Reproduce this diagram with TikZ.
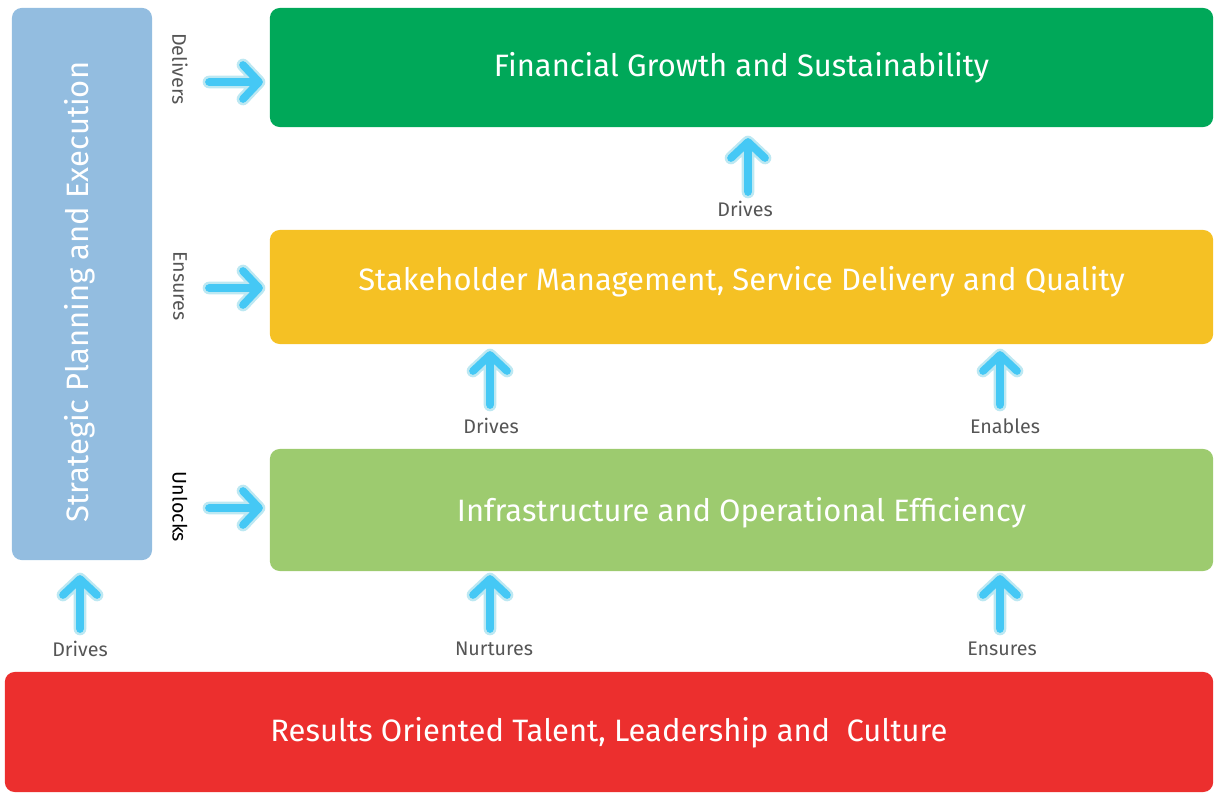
\documentclass[tikz,border=0pt]{standalone}
\usepackage{fontspec}
\setmainfont{Fira Sans}
\usetikzlibrary{positioning}

\definecolor{planblue}{HTML}{93BDE0}
\definecolor{fingreen}{HTML}{00A859}
\definecolor{stakeyellow}{HTML}{F5C124}
\definecolor{infragreen}{HTML}{9DCB6F}
\definecolor{talentred}{HTML}{EC2F2E}
\definecolor{arrblue}{HTML}{45C8F5}
\definecolor{arrhalo}{HTML}{BDE8F2}
\definecolor{lblgray}{HTML}{555555}

\begin{document}
\begin{tikzpicture}[
x=0.025cm, y=-0.025cm,
layer/.style={
	rounded corners=7pt,
	inner sep=0pt,
	minimum width=23.575cm,
	text=white,
	font=\fontsize{22}{26}\selectfont
},
tag/.style={
	text=lblgray,
	inner sep=1pt,
	font=\fontsize{14}{16}\selectfont
},
arrw/.pic={
	\draw[arrhalo, line width=9pt, line cap=round, line join=round]
	(0,0) -- (50,0) (34,-17) -- (50,0) -- (34,17);
	\draw[arrblue, line width=5.5pt, line cap=round, line join=round]
	(0,0) -- (50,0) (34,-17) -- (50,0) -- (34,17);
}
]
\useasboundingbox (0,0) rectangle (1214,793);

% layers
\node[layer, fill=fingreen, minimum height=2.975cm] at (741.5,67.5)
(fin) {Financial Growth and Sustainability};
\node[layer, fill=stakeyellow, minimum height=2.85cm, text height=16pt, text depth=11pt] at (741.5,287)
(stake) {Stakeholder Management, Service Delivery and Quality};
\node[layer, fill=infragreen, minimum height=3.05cm, text height=22pt, text depth=5pt] at (741.5,510)
(infra) {Infrastructure and Operational Efficiency};
\node[layer, fill=talentred, minimum width=30.2cm, minimum height=3cm, text height=18pt, text depth=5pt] at (609,732)
(talent) {Results Oriented Talent, Leadership and\ \ Culture};
\node[layer, fill=planblue, minimum width=3.5cm, minimum height=13.8cm] at (82,284)
(plan) {};
\node[rotate=90, text=white, font=\fontsize{22}{26}\selectfont] at (80,292)
(plantxt) {Strategic Planning and Execution};

% side labels
\node[tag, rotate=-90] at (180,69) (deliv) {Delivers};
\node[tag, rotate=-90] at (180,286) (ensur) {Ensures};
\node[tag, rotate=-90, text=black] at (180,507) (unlck) {Unlocks};

% vertical labels
\node[tag] at (745,209) (drv1) {Drives};
\node[tag] at (491,426) (drv2) {Drives};
\node[tag] at (1005,426) (enab) {Enables};
\node[tag] at (494,649) (nurt) {Nurtures};
\node[tag] at (1002,649) (ensr2) {Ensures};
\node[tag] at (80,649) (drv3) {Drives};

% arrow tails
\coordinate (h1) at (209,82);
\coordinate (h2) at (209,288);
\coordinate (h3) at (209,508);
\coordinate (v1) at (748,192);
\coordinate (v2) at (490,405);
\coordinate (v3) at (1000,405);
\coordinate (v4) at (490,629);
\coordinate (v5) at (1000,629);
\coordinate (v6) at (80,629);

\pic at (h1) {arrw};
\pic at (h2) {arrw};
\pic at (h3) {arrw};
\pic[rotate=90] at (v1) {arrw};
\pic[rotate=90] at (v2) {arrw};
\pic[rotate=90] at (v3) {arrw};
\pic[rotate=90] at (v4) {arrw};
\pic[rotate=90] at (v5) {arrw};
\pic[rotate=90] at (v6) {arrw};

\end{tikzpicture}
\end{document}
